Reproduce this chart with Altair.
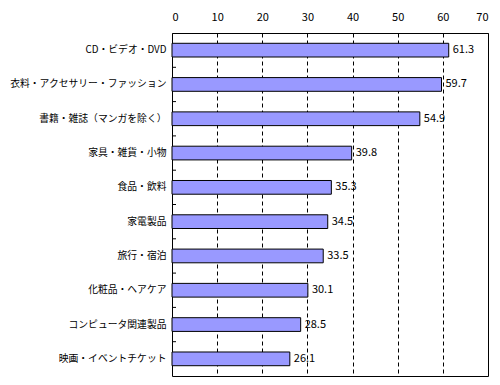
import altair as alt
import pandas as pd

categories = [
    "CD・ビデオ・DVD",
    "衣料・アクセサリー・ファッション",
    "書籍・雑誌（マンガを除く）",
    "家具・雑貨・小物",
    "食品・飲料",
    "家電製品",
    "旅行・宿泊",
    "化粧品・ヘアケア",
    "コンピュータ関連製品",
    "映画・イベントチケット",
]
values = [61.3, 59.7, 54.9, 39.8, 35.3, 34.5, 33.5, 30.1, 28.5, 26.1]
x_ticks = [0, 10, 20, 30, 40, 50, 60, 70]

df = pd.DataFrame({"cat": categories, "val": values, "label": [f"{v:.1f}" for v in values]})

FONT = "Noto Sans CJK JP"

yenc = alt.Y(
    "cat:N",
    sort=categories,
    scale=alt.Scale(paddingInner=0, paddingOuter=0),
    axis=alt.Axis(
        title=None,
        ticks=False,
        domain=False,
        labelPadding=6,
        labelFont=FONT,
        labelFontSize=9.8,
        labelColor="black",
        labelLimit=300,
    ),
)
xenc = alt.X(
    "val:Q",
    scale=alt.Scale(domain=[0, 70], nice=False),
    axis=alt.Axis(
        orient="top",
        title=None,
        values=x_ticks,
        ticks=False,
        tickSize=0,
        domain=False,
        labelPadding=11,
        labelFont=FONT,
        labelFontSize=11,
        labelColor="black",
        grid=True,
        gridColor="black",
        gridDash=[4, 3],
        gridOpacity=1,
        gridWidth=1,
    ),
)

bars = alt.Chart(df).mark_bar(
    color="#9999FF", stroke="black", strokeWidth=1, height={"band": 0.4}
).encode(x=xenc, y=yenc)

labels = alt.Chart(df).mark_text(
    align="left", baseline="middle", dx=4, font=FONT, fontSize=11, color="black"
).encode(x="val:Q", y=alt.Y("cat:N", sort=categories), text="label:N")

ticks = alt.Chart(df.iloc[1:]).mark_rule(color="black", strokeWidth=1).encode(
    y=alt.Y("cat:N", sort=categories, bandPosition=0),
    x=alt.value(0),
    x2=alt.value(4),
)

chart = (
    alt.layer(bars, labels, ticks)
    .properties(
        width=316,
        height=343,
        autosize=alt.AutoSizeParams(type="none"),
        padding={"left": 164, "top": 25, "right": 4, "bottom": 1},
        background="white",
    )
    .configure_view(stroke="black", strokeWidth=1)
)

chart.save("out.html", embed_options={"renderer": "svg", "actions": False})
